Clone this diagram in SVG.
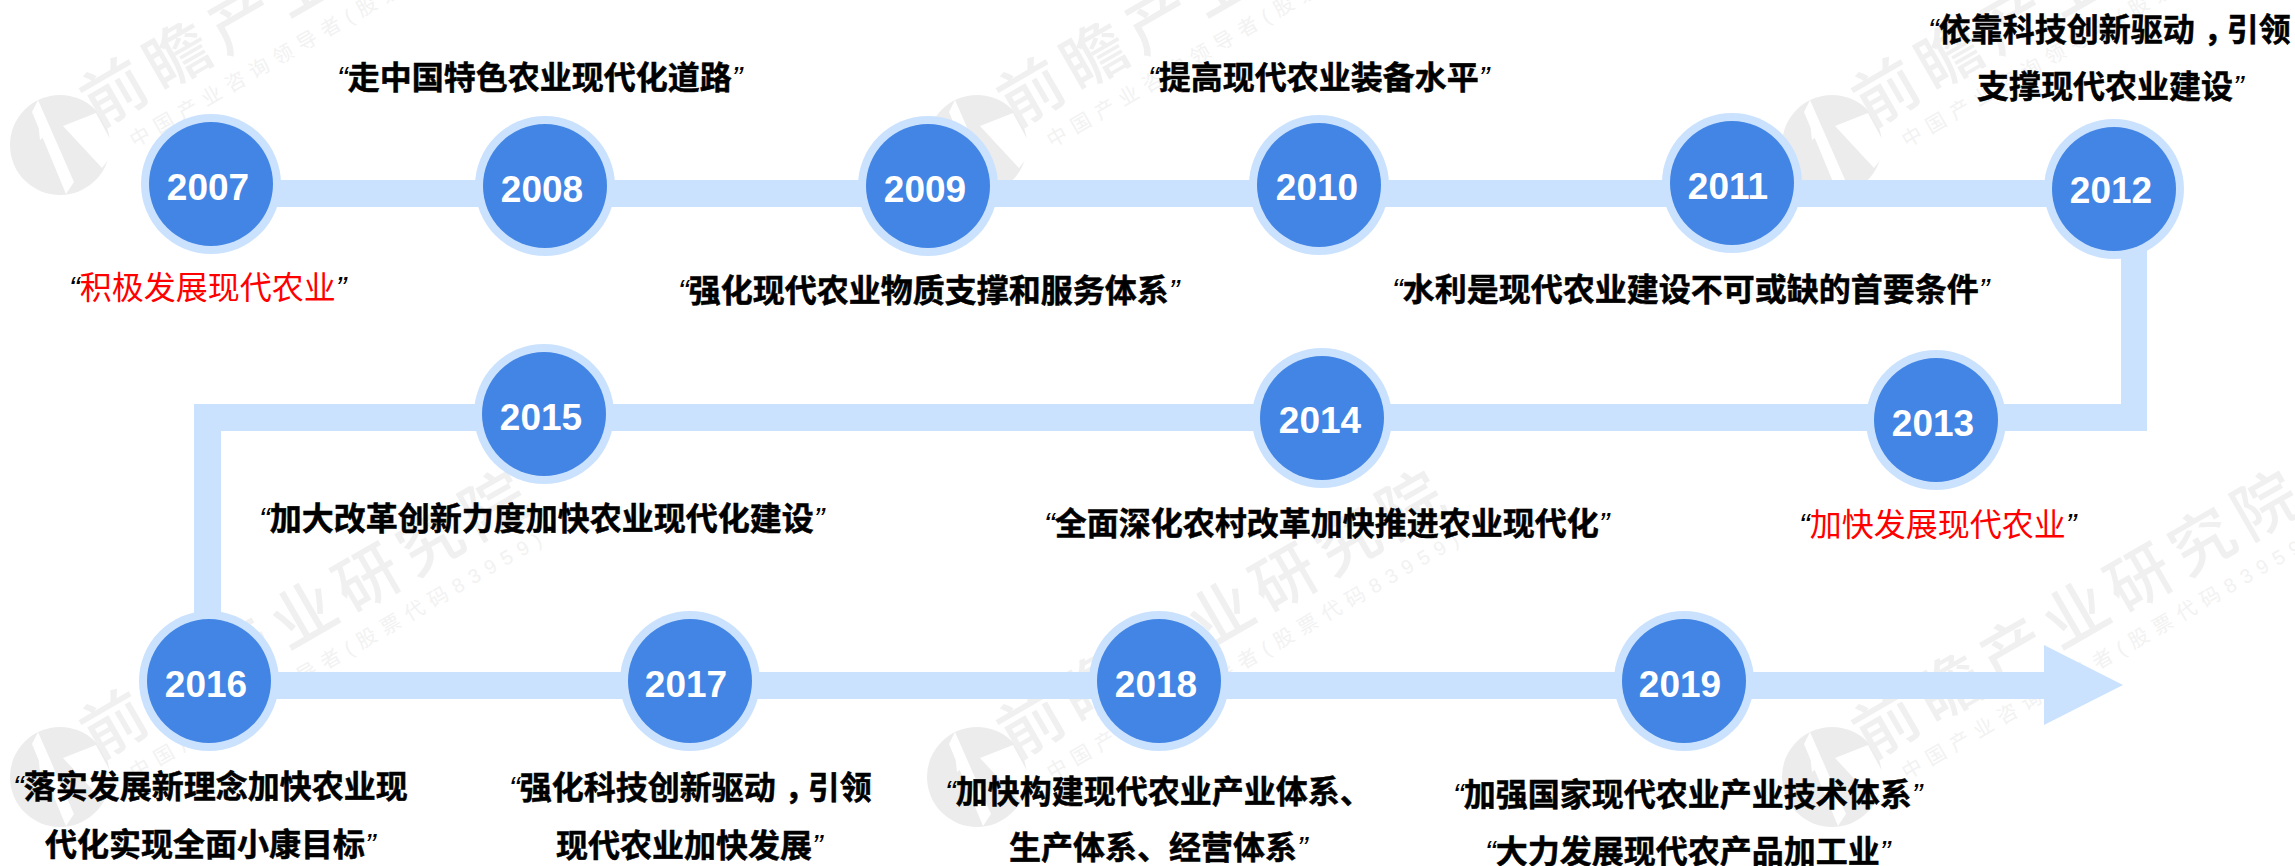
<svg xmlns="http://www.w3.org/2000/svg" width="2295" height="866" viewBox="0 0 2295 866">
<style>
text{font-family:"Liberation Sans","Noto Sans CJK SC",sans-serif}
.o{fill:#cbe2fe}.i{fill:#4285e4}
.y{fill:#fff;font-size:37px;font-weight:700;text-anchor:middle}
.b{fill:#000;font-size:32px;font-weight:700;stroke:#000;stroke-width:.5px}
.r{fill:#f00;font-size:32px;font-weight:400}
.q{font-weight:400;font-style:italic;stroke:none;fill:#000}
.w1{fill:#f0f0f0;font-size:64px;font-weight:500;letter-spacing:9px}
.w2{fill:#f2f2f2;font-size:20px;letter-spacing:7.5px}
</style>
<defs>
<g id="wm">
<circle cx="60" cy="145" r="50" fill="#ececec"/>
<path d="M32 112L38 100L74 182L66 194Z M63 126L96 113L116 150L102 168Z M38 122L46 118L48 134L40 140Z" fill="#fff"/>
<text class="w1" transform="translate(98 128) rotate(-30)">前瞻产业研究院</text>
<text class="w2" transform="translate(135 148) rotate(-30)">中国产业咨询领导者(股票代码83959)</text>
</g>
</defs>
<g id="watermarks">
<use href="#wm"/><use href="#wm" x="917"/><use href="#wm" x="1772"/>
<use href="#wm" y="632"/><use href="#wm" x="917" y="632"/><use href="#wm" x="1772" y="632"/>
</g>
<g id="connectors">
<path class="o" d="M211 180H2147V431H221V672H2044V645L2123 685L2044 725V699H194V404H2121V207H211Z"/>
</g>
<g id="n2007"><circle class="o" cx="211" cy="184" r="70"/><circle class="i" cx="211" cy="184" r="62"/><text class="y" x="208" y="200">2007</text><text class="r" x="69" y="299"><tspan class="q">“</tspan>积极发展现代农业<tspan class="q">”</tspan></text></g>
<g id="n2008"><circle class="o" cx="545" cy="186" r="70"/><circle class="i" cx="545" cy="186" r="62"/><text class="y" x="542" y="202">2008</text><text class="b" x="337" y="89"><tspan class="q">“</tspan>走中国特色农业现代化道路<tspan class="q">”</tspan></text></g>
<g id="n2009"><circle class="o" cx="928" cy="186" r="70"/><circle class="i" cx="928" cy="186" r="62"/><text class="y" x="925" y="202">2009</text><text class="b" x="678" y="302"><tspan class="q">“</tspan>强化现代农业物质支撑和服务体系<tspan class="q">”</tspan></text></g>
<g id="n2010"><circle class="o" cx="1319" cy="185" r="70"/><circle class="i" cx="1319" cy="185" r="62"/><text class="y" x="1317" y="200">2010</text><text class="b" x="1148" y="89"><tspan class="q">“</tspan>提高现代农业装备水平<tspan class="q">”</tspan></text></g>
<g id="n2011"><circle class="o" cx="1732" cy="183" r="70"/><circle class="i" cx="1732" cy="183" r="62"/><text class="y" x="1728" y="199">2011</text><text class="b" x="1392" y="301"><tspan class="q">“</tspan>水利是现代农业建设不可或缺的首要条件<tspan class="q">”</tspan></text></g>
<g id="n2012"><circle class="o" cx="2114" cy="189" r="70"/><circle class="i" cx="2114" cy="189" r="62"/><text class="y" x="2111" y="203">2012</text><text class="b" x="1928" y="41"><tspan class="q">“</tspan>依靠科技创新驱动<tspan dx="9">，</tspan><tspan dx="-9">引领</tspan></text><text class="b" x="1977" y="98">支撑现代农业建设<tspan class="q">”</tspan></text></g>
<g id="n2013"><circle class="o" cx="1936" cy="420" r="70"/><circle class="i" cx="1936" cy="420" r="62"/><text class="y" x="1933" y="436">2013</text><text class="r" x="1799" y="536"><tspan class="q">“</tspan>加快发展现代农业<tspan class="q">”</tspan></text></g>
<g id="n2014"><circle class="o" cx="1322" cy="418" r="70"/><circle class="i" cx="1322" cy="418" r="62"/><text class="y" x="1320" y="433">2014</text><text class="b" x="1044" y="535"><tspan class="q">“</tspan>全面深化农村改革加快推进农业现代化<tspan class="q">”</tspan></text></g>
<g id="n2015"><circle class="o" cx="544" cy="414" r="70"/><circle class="i" cx="544" cy="414" r="62"/><text class="y" x="541" y="430">2015</text><text class="b" x="259" y="530"><tspan class="q">“</tspan>加大改革创新力度加快农业现代化建设<tspan class="q">”</tspan></text></g>
<g id="n2016"><circle class="o" cx="209" cy="681" r="70"/><circle class="i" cx="209" cy="681" r="62"/><text class="y" x="206" y="697">2016</text><text class="b" x="13" y="798"><tspan class="q">“</tspan>落实发展新理念加快农业现</text><text class="b" x="45" y="856">代化实现全面小康目标<tspan class="q">”</tspan></text></g>
<g id="n2017"><circle class="o" cx="690" cy="681" r="70"/><circle class="i" cx="690" cy="681" r="62"/><text class="y" x="686" y="697">2017</text><text class="b" x="509" y="799"><tspan class="q">“</tspan>强化科技创新驱动<tspan dx="9">，</tspan><tspan dx="-9">引领</tspan></text><text class="b" x="556" y="857">现代农业加快发展<tspan class="q">”</tspan></text></g>
<g id="n2018"><circle class="o" cx="1159" cy="681" r="70"/><circle class="i" cx="1159" cy="681" r="62"/><text class="y" x="1156" y="697">2018</text><text class="b" x="945" y="803"><tspan class="q">“</tspan>加快构建现代农业产业体系、</text><text class="b" x="1009" y="859">生产体系、经营体系<tspan class="q">”</tspan></text></g>
<g id="n2019"><circle class="o" cx="1684" cy="681" r="70"/><circle class="i" cx="1684" cy="681" r="62"/><text class="y" x="1680" y="697">2019</text><text class="b" x="1453" y="806"><tspan class="q">“</tspan>加强国家现代农业产业技术体系<tspan class="q">”</tspan></text><text class="b" x="1485" y="863"><tspan class="q">“</tspan>大力发展现代农产品加工业<tspan class="q">”</tspan></text></g>
</svg>
